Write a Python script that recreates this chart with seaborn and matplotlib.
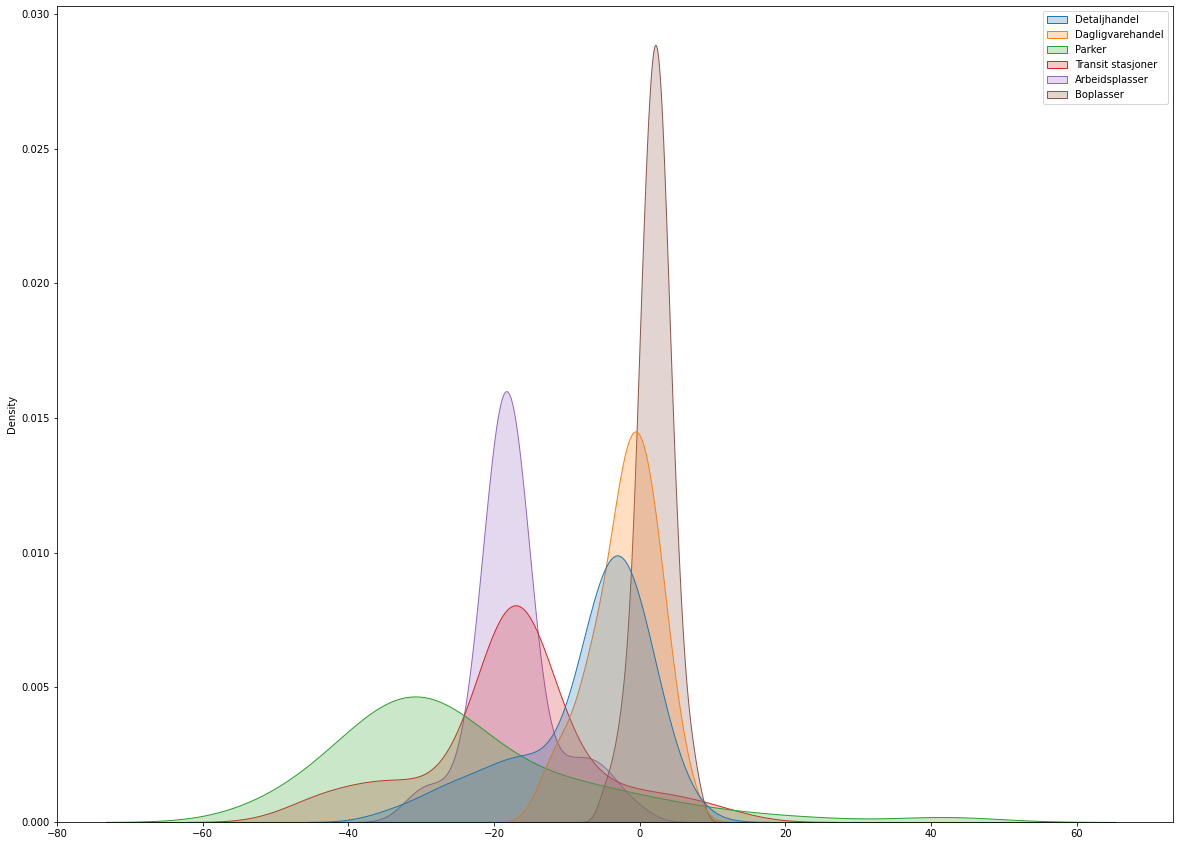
import numpy as np
import pandas as pd
import matplotlib
matplotlib.use("Agg")
import matplotlib.pyplot as plt
import seaborn as sns

# Endring i besøk (%) mot normalnivå, og antall dager med hver verdi
detaljhandel_verdi = [-35, -32, -29, -26, -23, -20, -17, -15, -13, -11, -9, -7, -5, -3, -1, 1, 3, 5, 7]
detaljhandel_dager = [1, 1, 2, 3, 3, 4, 4, 4, 2, 1, 5, 9, 15, 16, 14, 9, 5, 1, 1]

dagligvare_verdi = [-14, -13, -12, -11, -10, -9, -8, -7, -6, -5, -4, -3, -2, -1, 0, 1, 2, 3, 4, 5, 6, 7]
dagligvare_dager = [1, 1, 2, 2, 2, 2, 3, 4, 5, 4, 6, 8, 9, 10, 9, 9, 8, 6, 4, 2, 2, 1]

parker_verdi = [-52, -49, -46, -43, -40, -37, -34, -31, -28, -25, -22, -19, -16,
                -14, -10, -7, -4, -1, 3, 7, 12, 17, 24, 40, 44]
parker_dager = [2, 2, 3, 3, 6, 9, 10, 11, 10, 9, 6, 4, 2,
                3, 4, 3, 2, 2, 2, 2, 1, 1, 1, 1, 1]

transit_verdi = [-48, -45, -42, -38, -35, -32, -28, -25, -23, -21, -19, -17, -15, -13, -11,
                 -8, -5, -2, 1, 4, 7, 10, 13]
transit_dager = [1, 2, 3, 3, 3, 4, 2, 2, 2, 6, 15, 19, 14, 6, 2,
                 3, 3, 2, 2, 2, 2, 1, 1]

arbeid_verdi = [-32, -30, -28, -26, -24, -23, -22, -21, -20, -19, -18, -17, -16, -15, -14, -13, -12,
                -11, -10, -9, -8, -7, -6, -5, -4, -2, 0]
arbeid_dager = [1, 2, 2, 1, 2, 2, 4, 7, 10, 13, 13, 11, 9, 5, 2, 1, 1,
                1, 2, 1, 2, 1, 2, 1, 2, 1, 1]

bolig_verdi = [-5, -4, -3, -2, -1, 0, 1, 2, 3, 4, 5, 6, 7, 8]
bolig_dager = [1, 1, 2, 3, 5, 11, 16, 19, 18, 11, 7, 3, 2, 1]

# Wide-form tabell, en kolonne per kategori
df = pd.DataFrame({
    "Detaljhandel": np.repeat(detaljhandel_verdi, detaljhandel_dager),
    "Dagligvarehandel": np.repeat(dagligvare_verdi, dagligvare_dager),
    "Parker": np.repeat(parker_verdi, parker_dager),
    "Transit stasjoner": np.repeat(transit_verdi, transit_dager),
    "Arbeidsplasser": np.repeat(arbeid_verdi, arbeid_dager),
    "Boplasser": np.repeat(bolig_verdi, bolig_dager),
})

fig, ax = plt.subplots(figsize=(1179 / 72, 846 / 72), dpi=72)
sns.kdeplot(data=df, fill=True, ax=ax)
ax.set_xlim(-80, 73.2)

fig.subplots_adjust(left=0.0483, right=0.9949, top=0.9929, bottom=0.0284)
fig.savefig("out.png", dpi=72)
